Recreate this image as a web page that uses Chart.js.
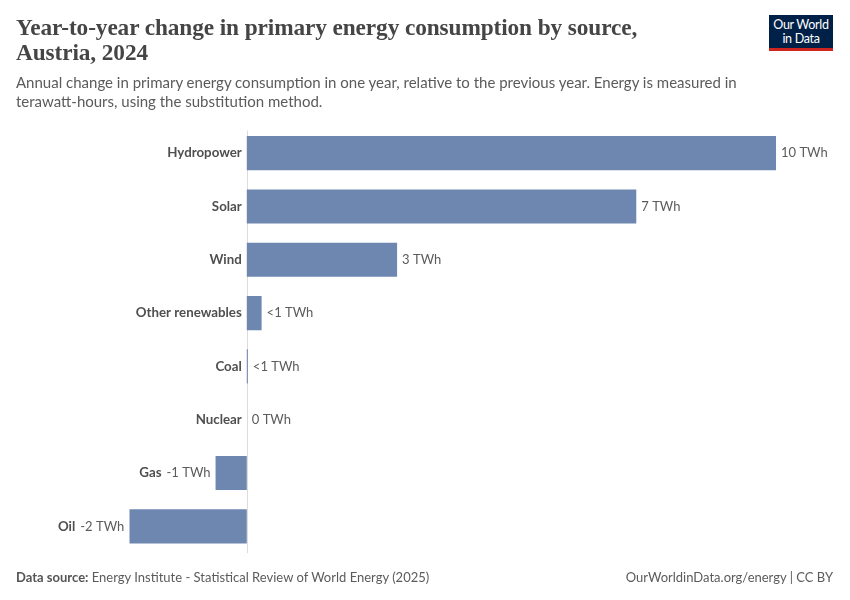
<!DOCTYPE html>
<html>
<head>
<meta charset="utf-8">
<script src="https://cdn.jsdelivr.net/npm/chart.js@4.4.1/dist/chart.umd.min.js"></script>
<style>
  html, body { margin: 0; padding: 0; background: #fff; }
  #page { position: relative; width: 850px; height: 600px; overflow: hidden; font-family: Lato, sans-serif; }
  #chart { position: absolute; left: 0; top: 0; }
  .title { position: absolute; left: 16px; top: 15px; font-family: "Liberation Serif", serif; font-weight: bold; font-size: 23.3px; line-height: 25px; color: #454545; letter-spacing: -0.1px; }
  .subtitle { position: absolute; left: 16px; top: 73px; font-size: 15px; line-height: 19px; color: #5b5b5b; width: 760px; }
  .logo { position: absolute; left: 769px; top: 15px; width: 64px; height: 30px; background: #002147; border-bottom: 3px solid #ce261e; color: #fff; font-size: 12.5px; line-height: 14px; text-align: center; padding-top: 3px; letter-spacing: -0.3px; }
  .footer { position: absolute; top: 569px; font-size: 13px; color: #5b5b5b; }
  .footer b { font-weight: bold; color: #555; }
</style>
</head>
<body>
<div id="page">
  <canvas id="chart" width="850" height="600"></canvas>
  <div class="title">Year-to-year change in primary energy consumption by source,<br>Austria, 2024</div>
  <div class="subtitle">Annual change in primary energy consumption in one year, relative to the previous year. Energy is measured in terawatt-hours, using the substitution method.</div>
  <div class="logo">Our World<br>in Data</div>
  <div class="footer" style="left:16px"><b>Data source:</b> Energy Institute - Statistical Review of World Energy (2025)</div>
  <div class="footer" style="right:17px">OurWorldinData.org/energy | CC BY</div>
</div>
<script>
// values (TWh)
const categories = ['Hydropower', 'Solar', 'Wind', 'Other renewables', 'Coal', 'Nuclear', 'Gas', 'Oil'];
const changeTWh = [10.0, 7.36, 2.84, 0.28, 0.02, 0, -0.59, -2.22];
const valueLabels = ['10 TWh', '7 TWh', '3 TWh', '<1 TWh', '<1 TWh', '0 TWh', '-1 TWh', '-2 TWh'];

const barColor = '#6e87b0';

// category names + value labels drawn beside each bar
const barLabels = {
  id: 'barLabels',
  beforeDatasetsDraw(chart) {
    const { ctx, chartArea, scales } = chart;
    const x0 = Math.round(scales.x.getPixelForValue(0)) + 0.5;
    ctx.save();
    ctx.strokeStyle = '#dcdcdc';
    ctx.lineWidth = 1;
    ctx.beginPath();
    ctx.moveTo(x0, chartArea.top + 4);
    ctx.lineTo(x0, chartArea.bottom);
    ctx.stroke();
    ctx.restore();
  },
  afterDatasetsDraw(chart) {
    const { ctx, scales } = chart;
    const meta = chart.getDatasetMeta(0);
    const zero = scales.x.getPixelForValue(0);
    ctx.save();
    ctx.textBaseline = 'middle';
    meta.data.forEach((bar, i) => {
      const v = changeTWh[i];
      const y = bar.y;
      ctx.font = '13px Lato';
      ctx.fillStyle = '#5b5b5b';
      let nameRight = zero - 5;
      if (v >= 0) {
        ctx.textAlign = 'left';
        ctx.fillText(valueLabels[i], Math.max(bar.x, zero) + 5, y);
      } else {
        ctx.textAlign = 'right';
        ctx.fillText(valueLabels[i], bar.x - 5, y);
        nameRight = bar.x - 5 - ctx.measureText(valueLabels[i]).width - 5;
      }
      ctx.font = 'bold 13.3px Lato';
      ctx.fillStyle = '#4f4f4f';
      ctx.textAlign = 'right';
      ctx.fillText(categories[i], nameRight, y);
    });
    ctx.restore();
  }
};

new Chart(document.getElementById('chart'), {
  type: 'bar',
  data: {
    labels: categories,
    datasets: [{
      data: changeTWh,
      backgroundColor: barColor,
      borderWidth: 0,
      categoryPercentage: 1,
      barPercentage: 0.64
    }]
  },
  options: {
    indexAxis: 'y',
    responsive: false,
    animation: false,
    layout: { padding: { left: 129.3, right: 74, top: 126.5, bottom: 47 } },
    plugins: { legend: { display: false }, tooltip: { enabled: false } },
    scales: {
      x: { type: 'linear', min: -2.22, max: 10, display: false },
      y: { display: false }
    }
  },
  plugins: [barLabels]
});
</script>
</body>
</html>
